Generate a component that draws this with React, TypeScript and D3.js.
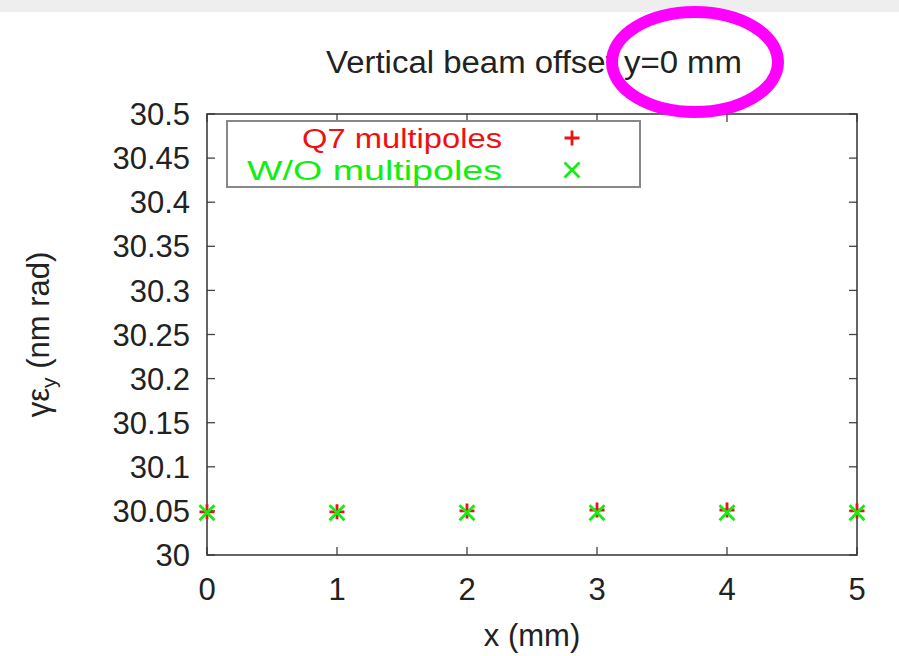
import * as d3 from "d3";
import { useEffect, useRef } from "react";

const xValues = [0, 1, 2, 3, 4, 5];
const q7Values = [30.049, 30.049, 30.05, 30.051, 30.051, 30.05];
const woValues = [30.048, 30.048, 30.048, 30.048, 30.048, 30.048];
const yTicks = [30, 30.05, 30.1, 30.15, 30.2, 30.25, 30.3, 30.35, 30.4, 30.45, 30.5];
const xTicks = [0, 1, 2, 3, 4, 5];
const legendLabels = ["Q7 multipoles", "W/O multipoles"];

const W = 899;
const H = 656;
const margin = { top: 114, right: 42, bottom: 101, left: 207 };

const App = () => {
  const ref = useRef<SVGSVGElement>(null);

  useEffect(() => {
    const svg = d3.select(ref.current);
    svg.selectAll("*").remove();

    const width = W - margin.left - margin.right;
    const height = H - margin.top - margin.bottom;
    const font = "'Liberation Sans', Arial, sans-serif";
    const fs = 31;

    svg.append("rect").attr("width", W).attr("height", H).attr("fill", "#fff");
    svg.append("rect").attr("width", W).attr("height", 12).attr("fill", "#eeeeee");

    const x = d3.scaleLinear().domain([0, 5]).range([0, width]);
    const y = d3.scaleLinear().domain([30, 30.5]).range([height, 0]);

    const g = svg
      .append("g")
      .attr("transform", `translate(${margin.left},${margin.top})`);

    // ticks (inward, mirrored)
    const tickLen = 8;
    const tickColor = "#444";
    yTicks.forEach((t) => {
      g.append("line").attr("x1", 0).attr("x2", tickLen).attr("y1", y(t)).attr("y2", y(t)).attr("stroke", tickColor).attr("stroke-width", 1.3);
      g.append("line").attr("x1", width).attr("x2", width - tickLen).attr("y1", y(t)).attr("y2", y(t)).attr("stroke", tickColor).attr("stroke-width", 1.3);
      g.append("text")
        .attr("x", -17)
        .attr("y", y(t))
        .attr("dy", "0.36em")
        .attr("text-anchor", "end")
        .attr("font-family", font)
        .attr("font-size", fs)
        .attr("fill", "#222")
        .text(String(+t.toFixed(2)));
    });
    xTicks.forEach((t) => {
      g.append("line").attr("x1", x(t)).attr("x2", x(t)).attr("y1", height).attr("y2", height - tickLen).attr("stroke", tickColor).attr("stroke-width", 1.3);
      g.append("line").attr("x1", x(t)).attr("x2", x(t)).attr("y1", 0).attr("y2", tickLen).attr("stroke", tickColor).attr("stroke-width", 1.3);
      g.append("text")
        .attr("x", x(t))
        .attr("y", height + 45)
        .attr("text-anchor", "middle")
        .attr("font-family", font)
        .attr("font-size", fs)
        .attr("fill", "#222")
        .text(t);
    });

    g.append("rect")
      .attr("width", width)
      .attr("height", height)
      .attr("fill", "none")
      .attr("stroke", "#333")
      .attr("stroke-width", 1.5);

    // legend
    const legend = g.append("g").attr("transform", `translate(20,7)`);
    legend
      .append("rect")
      .attr("width", 413)
      .attr("height", 66)
      .attr("fill", "#fff")
      .attr("stroke", "#888")
      .attr("stroke-width", 2);
    const colors = ["#ee1111", "#11ee11"];
    const syms = ["plus", "cross"];
    const widths = [200, 255];
    const s = 7.5;
    const marker = (sel: any, sym: string, cx: number, cy: number, color: string) => {
      const p =
        sym === "plus"
          ? `M${cx - s},${cy}L${cx + s},${cy}M${cx},${cy - s}L${cx},${cy + s}`
          : `M${cx - s},${cy - s}L${cx + s},${cy + s}M${cx - s},${cy + s}L${cx + s},${cy - s}`;
      sel.append("path").attr("d", p).attr("stroke", color).attr("stroke-width", 2.8).attr("fill", "none");
    };
    legendLabels.forEach((label, i) => {
      const cy = 17 + i * 32;
      legend
        .append("text")
        .attr("x", 275)
        .attr("y", cy)
        .attr("dy", "0.36em")
        .attr("text-anchor", "end")
        .attr("font-family", font)
        .attr("font-size", 27)
        .attr("textLength", widths[i])
        .attr("lengthAdjust", "spacingAndGlyphs")
        .attr("fill", colors[i])
        .text(label);
      marker(legend, syms[i], 345, cy, colors[i]);
    });

    // points
    xValues.forEach((xv, i) => {
      marker(g, "plus", x(xv), y(q7Values[i]), colors[0]);
    });
    xValues.forEach((xv, i) => {
      marker(g, "cross", x(xv), y(woValues[i]), colors[1]);
    });

    // title
    svg
      .append("text")
      .attr("x", margin.left + width / 2 + 2)
      .attr("y", 73)
      .attr("text-anchor", "middle")
      .attr("font-family", font)
      .attr("font-size", fs)
      .attr("textLength", 416)
      .attr("lengthAdjust", "spacingAndGlyphs")
      .attr("fill", "#222")
      .text("Vertical beam offset y=0 mm");

    // axis labels
    svg
      .append("text")
      .attr("x", margin.left + width / 2)
      .attr("y", 646)
      .attr("text-anchor", "middle")
      .attr("font-family", font)
      .attr("font-size", fs)
      .attr("fill", "#222")
      .text("x (mm)");

    const yl = svg
      .append("text")
      .attr("transform", `translate(49,${margin.top + height / 2}) rotate(-90)`)
      .attr("text-anchor", "middle")
      .attr("font-family", font)
      .attr("font-size", fs)
      .attr("fill", "#222");
    yl.append("tspan").text("γε");
    yl.append("tspan").attr("font-size", 21).attr("dy", 7).text("y");
    yl.append("tspan").attr("dy", -7).text(" (nm rad)");

    // highlight ellipse
    svg
      .append("ellipse")
      .attr("cx", 695)
      .attr("cy", 62)
      .attr("rx", 83)
      .attr("ry", 50)
      .attr("fill", "none")
      .attr("stroke", "#ff00ff")
      .attr("stroke-width", 12);
  }, []);

  return (
    <svg
      ref={ref}
      width={W}
      height={H}
      style={{ position: "absolute", left: 0, top: 0 }}
    />
  );
};

export default App;
